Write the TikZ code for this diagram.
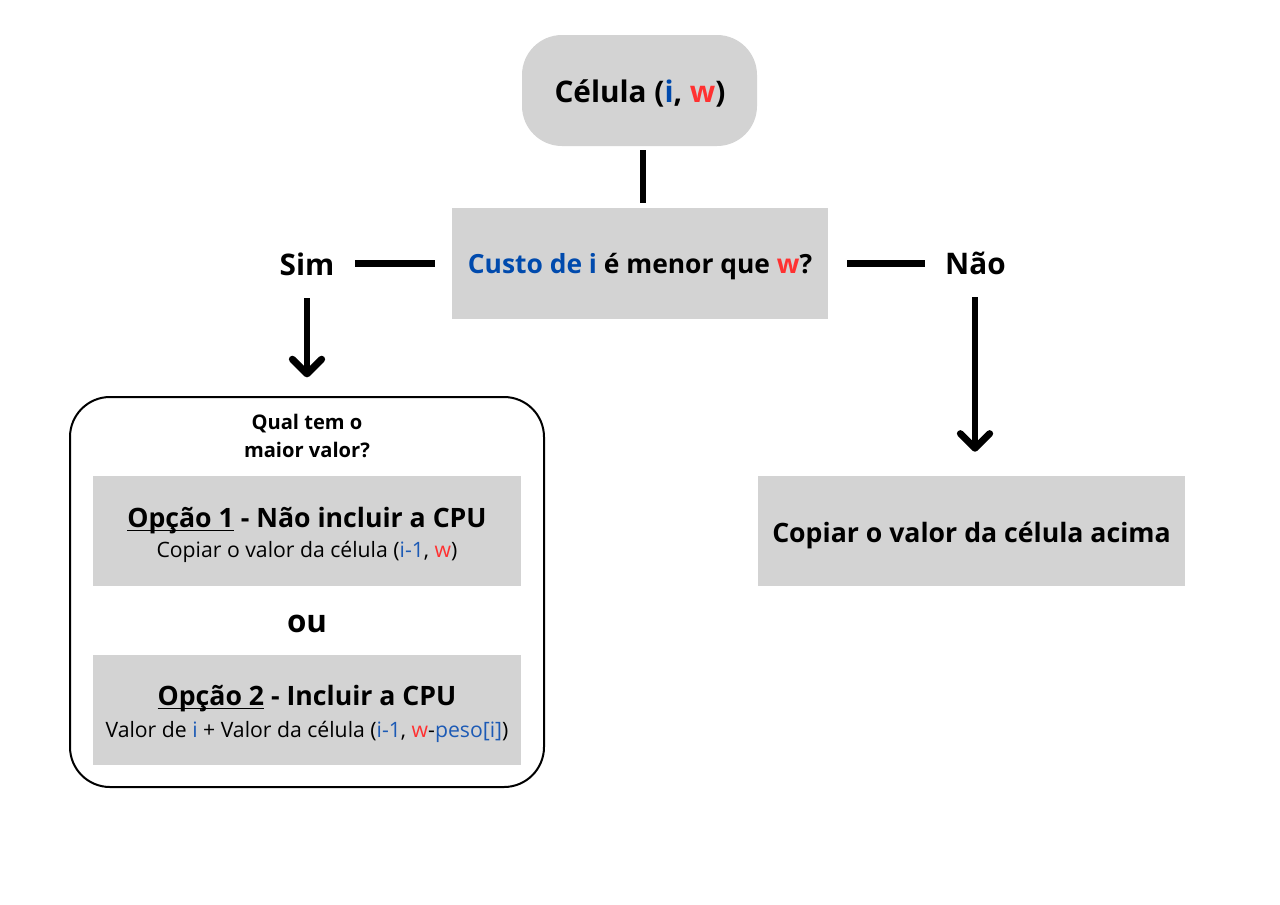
\documentclass[tikz,border=0pt]{standalone}
\usepackage{fontspec}
\setmainfont{Open Sans}
\usetikzlibrary{arrows.meta}
\definecolor{boxgray}{HTML}{D3D3D3}
\definecolor{cblue}{HTML}{004AAD}
\definecolor{lblue}{HTML}{1C5AB5}
\definecolor{cred}{HTML}{FF3131}
\newcommand\myul[1]{\setbox0\hbox{#1}\rlap{\rule[-3.1pt]{\wd0}{1.2pt}}\box0\relax}
\begin{document}
\begin{tikzpicture}[x=0.75pt,y=-0.75pt,
  graybox/.style={fill=boxgray, draw=none, inner sep=0pt},
  conn/.style={line width=5.2pt, black},
  arr/.style={line width=5.2pt, black, -{Straight Barb[length=11pt,width=22pt,line cap=round,line join=round]}},
  txt/.style={inner sep=0pt, anchor=base, align=center},
  bigb/.style={font=\fontsize{20}{24}\selectfont\bfseries},
  subr/.style={font=\fontsize{15.9}{19}\selectfont}
]
\useasboundingbox (0,0) rectangle (1280,904);
% top cell
\node[graybox, rounded corners=30pt, minimum width={235*0.75pt}, minimum height={111*0.75pt}] (top) at (639.5,90.5) {};
\node[txt, font=\fontsize{22.3}{26}\selectfont\bfseries] (topt) at (640,102)
  {Célula (\textcolor{cblue}{i}, \textcolor{cred}{w})};
% question
\node[graybox, minimum width={376*0.75pt}, minimum height={111*0.75pt}] (q) at (640,263.5) {};
\node[txt, font=\fontsize{19.8}{24}\selectfont\bfseries] (qt) at (640,273)
  {\textcolor{cblue}{Custo de i} é menor que \textcolor{cred}{w}?};
\draw[conn, shorten <=3pt, shorten >=3.7pt] (top.south -| 643,0) -- (q.north -| 643,0);
% labels
\node[txt, font=\fontsize{22.3}{26}\selectfont\bfseries] (sim) at (307,275) {Sim};
\node[txt, font=\fontsize{22.3}{26}\selectfont\bfseries] (nao) at (975.5,274) {Não};
\draw[conn, shorten <=15.5pt, shorten >=12.8pt] (sim.east |- q.west) -- (q.west);
\draw[conn, shorten <=14.3pt, shorten >=15pt] (q.east) -- (nao.west |- q.east);
% left group
\node[draw, line width=1.5pt, rounded corners=30pt, minimum width={474*0.75pt}, minimum height={390*0.75pt}, inner sep=0pt] (outer) at (307,592) {};
\node[txt, font=\fontsize{15.1}{21}\selectfont\bfseries] (qual1) at (307,429) {Qual tem o};
\node[txt, font=\fontsize{15.1}{21}\selectfont\bfseries] (qual2) at (307,457) {maior valor?};
\node[graybox, minimum width={428*0.75pt}, minimum height={110*0.75pt}] (op1) at (307,531) {};
\node[txt, bigb] (op1t) at (307,527) {\myul{Opção 1} - Não incluir a CPU};
\node[txt, subr] (op1s) at (307,557) {Copiar o valor da célula (\textcolor{lblue}{i-1}, \textcolor{cred}{w})};
\node[txt, font=\fontsize{23.5}{28}\selectfont\bfseries] (ou) at (307,632) {ou};
\node[graybox, minimum width={428*0.75pt}, minimum height={110*0.75pt}] (op2) at (307,710) {};
\node[txt, bigb] (op2t) at (307,705) {\myul{Opção 2} - Incluir a CPU};
\node[txt, subr] (op2s) at (307,737) {Valor de \textcolor{lblue}{i} + Valor da célula (\textcolor{lblue}{i-1}, \textcolor{cred}{w}-\textcolor{lblue}{peso[i]})};
% right
\node[graybox, minimum width={427*0.75pt}, minimum height={110*0.75pt}] (copy) at (971.5,531) {};
\node[txt, bigb] (copyt) at (971.5,542) {Copiar o valor da célula acima};
% arrows
\draw[arr, shorten >=14pt] ([yshift=-17.25pt]sim.base) -- (outer.north);
\draw[arr, shorten >=18pt] ([yshift=-17.25pt]nao.base -| 975,0) -- (copy.north -| 975,0);
\end{tikzpicture}
\end{document}
